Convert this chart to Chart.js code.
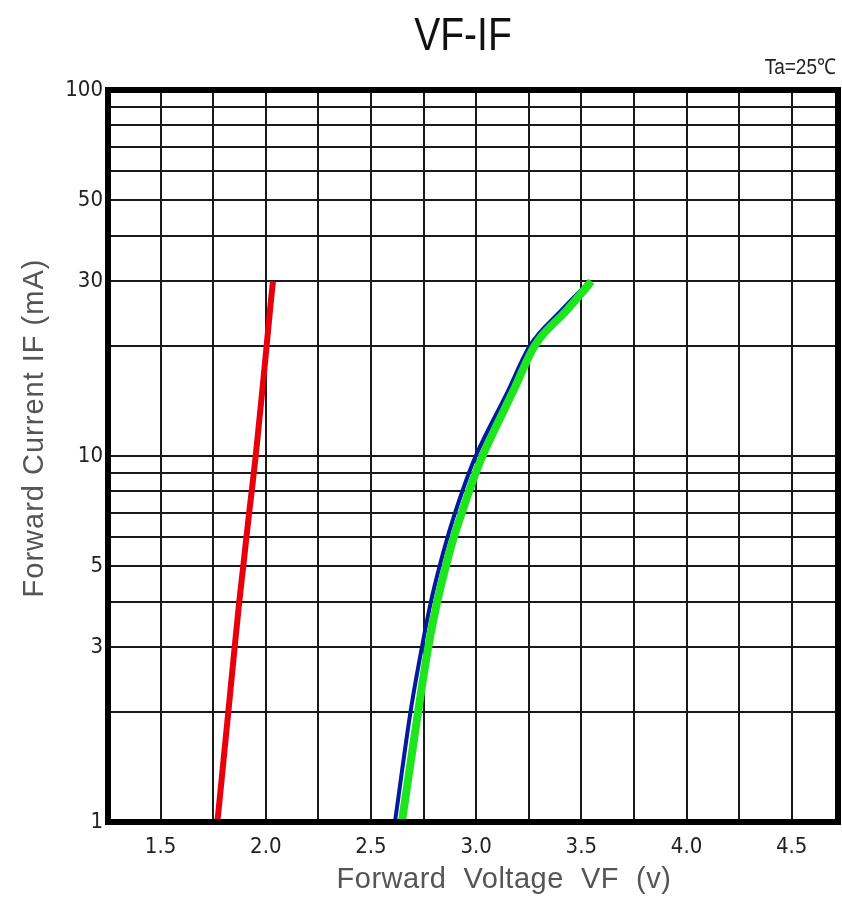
<!DOCTYPE html>
<html>
<head>
<meta charset="utf-8">
<script src="https://cdn.jsdelivr.net/npm/chart.js@4/dist/chart.umd.min.js"></script>
<style>
  html, body { margin: 0; padding: 0; background: #fff; }
  #wrap { width: 842px; height: 900px; }
</style>
</head>
<body>
<div id="wrap"><canvas id="c" width="842" height="900"></canvas></div>
<script>
// ---- data ----
const currents = [1, 2, 3, 4, 5, 6, 7, 8, 9, 10, 15, 20, 25, 30];           // IF (mA)
const redVF    = [1.770, 1.822, 1.852, 1.874, 1.893, 1.908, 1.921, 1.933, 1.943, 1.952, 1.983, 2.004, 2.020, 2.034];
const blueVF   = [2.614, 2.688, 2.742, 2.785, 2.826, 2.864, 2.900, 2.934, 2.966, 2.998, 3.150, 3.255, 3.405, 3.540];
const greenVF  = [2.647, 2.724, 2.772, 2.815, 2.856, 2.894, 2.932, 2.966, 2.998, 3.030, 3.175, 3.278, 3.430, 3.548];

const xGridValues = [1.5, 1.75, 2.0, 2.25, 2.5, 2.75, 3.0, 3.25, 3.5, 3.75, 4.0, 4.25, 4.5];
const xTickLabels = ['1.5', '2.0', '2.5', '3.0', '3.5', '4.0', '4.5'];
const yGridValues = [1, 2, 3, 4, 5, 6, 7, 8, 9, 10, 20, 30, 40, 50, 60, 70, 80, 90, 100];
const yTickLabels = ['1', '3', '5', '10', '30', '50', '100'];

const titleText = 'VF-IF';
const noteText = 'Ta=25\u2103';
const xTitle = 'Forward  Voltage  VF  (v)';
const yTitle = 'Forward Current IF (mA)';

const toPoints = (vs) => vs.map((v, i) => ({ x: v, y: currents[i] }));

const tickFont = { family: "'Liberation Sans Narrow', 'DejaVu Sans Condensed', 'Liberation Sans', sans-serif", size: 22 };

const decor = {
  id: 'decor',
  beforeDraw(chart) {
    const ctx = chart.ctx;
    ctx.save();
    ctx.fillStyle = '#fff';
    ctx.fillRect(0, 0, chart.width, chart.height);
    ctx.restore();
  },
  afterDatasetsDraw(chart) {
    const ctx = chart.ctx, a = chart.chartArea;
    ctx.save();
    ctx.strokeStyle = '#000';
    ctx.lineWidth = 6;
    ctx.strokeRect(a.left, a.top, a.right - a.left, a.bottom - a.top);
    ctx.restore();
  },
  afterDraw(chart) {
    const ctx = chart.ctx;
    ctx.save();
    ctx.fillStyle = '#111';
    ctx.textAlign = 'center';
    ctx.textBaseline = 'middle';
    // title
    ctx.save();
    ctx.translate(463, 37);
    ctx.scale(1, 1.2);
    ctx.font = "39px 'Liberation Sans', Arial, sans-serif";
    ctx.fillText(titleText, 0, 0);
    ctx.restore();
    // Ta note
    ctx.save();
    ctx.translate(836, 68);
    ctx.scale(1, 1.15);
    ctx.textAlign = 'right';
    ctx.font = "19px 'Liberation Sans', Arial, sans-serif";
    ctx.fillStyle = '#222';
    ctx.fillText(noteText, 0, 0);
    ctx.restore();
    // x axis title
    ctx.save();
    ctx.translate(504, 880);
    ctx.fillStyle = '#555';
    ctx.font = "29px 'Liberation Sans', Arial, sans-serif";
    if ('letterSpacing' in ctx) ctx.letterSpacing = '0.5px';
    ctx.fillText(xTitle, 0, 0);
    ctx.restore();
    // y axis title
    ctx.save();
    ctx.translate(35, 428);
    ctx.rotate(-Math.PI / 2);
    ctx.fillStyle = '#555';
    ctx.font = "29px 'Liberation Sans', Arial, sans-serif";
    if ('letterSpacing' in ctx) ctx.letterSpacing = '1px';
    ctx.fillText(yTitle, 0, 0);
    ctx.restore();
    ctx.restore();
  }
};

new Chart(document.getElementById('c'), {
  type: 'scatter',
  data: {
    datasets: [
      { label: 'red', data: toPoints(redVF), showLine: true, borderColor: '#e8000b', borderWidth: 6, pointRadius: 0, cubicInterpolationMode: 'monotone', order: 1 },
      { label: 'blue', data: toPoints(blueVF), showLine: true, borderColor: '#001aa0', borderWidth: 4, pointRadius: 0, cubicInterpolationMode: 'monotone', order: 2 },
      { label: 'green', data: toPoints(greenVF), showLine: true, borderColor: '#1ee61e', borderWidth: 8, pointRadius: 0, cubicInterpolationMode: 'monotone', order: 0 }
    ]
  },
  options: {
    responsive: false,
    animation: false,
    layout: { padding: { top: 90, right: 4, left: 0, bottom: 0 } },
    plugins: { legend: { display: false }, tooltip: { enabled: false }, title: { display: false } },
    scales: {
      x: {
        type: 'linear',
        min: 1.25,
        max: 4.72,
        afterBuildTicks: (s) => { s.ticks = xGridValues.map(v => ({ value: v })); },
        afterFit: (s) => { s.height = 78; },
        ticks: {
          autoSkip: false,
          maxRotation: 0,
          padding: 12,
          color: '#222',
          font: tickFont,
          callback: (v) => { const t = Number(v).toFixed(1); return (xTickLabels.includes(t) && Math.abs(v * 2 - Math.round(v * 2)) < 1e-6) ? t : ''; }
        },
        grid: { color: '#1a1a1a', lineWidth: 2, drawTicks: false },
        border: { display: false },
        title: { display: false }
      },
      y: {
        type: 'logarithmic',
        min: 1,
        max: 100,
        afterBuildTicks: (s) => { s.ticks = yGridValues.map(v => ({ value: v })); },
        afterFit: (s) => { s.width = 108; },
        ticks: {
          autoSkip: false,
          padding: 5,
          color: '#222',
          font: tickFont,
          callback: (v) => { const t = String(v); return yTickLabels.includes(t) ? t : ''; }
        },
        grid: { color: '#1a1a1a', lineWidth: 2, drawTicks: false },
        border: { display: false },
        title: { display: false }
      }
    }
  },
  plugins: [decor]
});
</script>
</body>
</html>
